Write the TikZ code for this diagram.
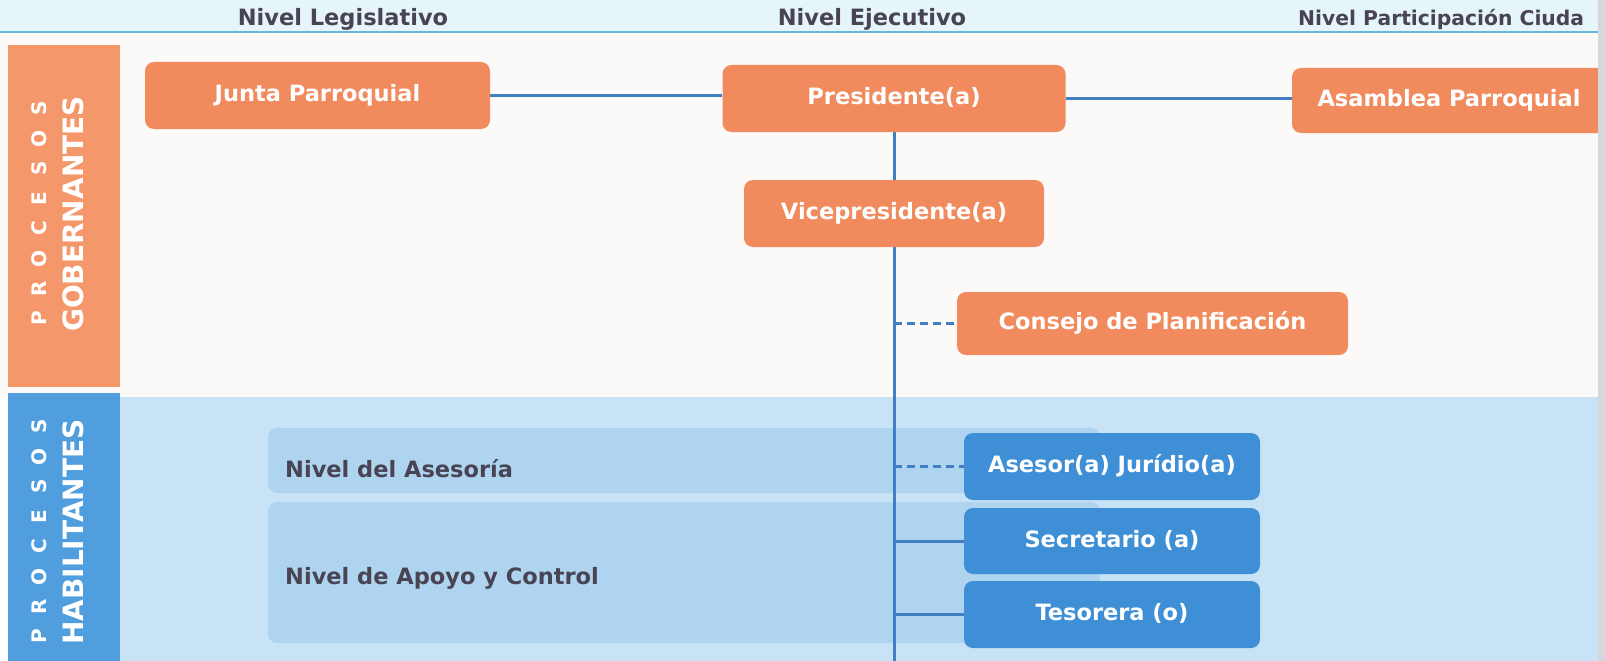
\documentclass[tikz,border=0pt]{standalone}
\usepackage{fontspec}
\setmainfont{DejaVu Sans}
\usetikzlibrary{calc}

\definecolor{naranja}{RGB}{241,139,94}
\definecolor{naranjabar}{RGB}{244,152,108}
\definecolor{azul}{RGB}{62,143,214}
\definecolor{azulbar}{RGB}{80,158,221}
\definecolor{celeste}{RGB}{200,227,246}
\definecolor{franja}{RGB}{174,212,240}
\definecolor{linea}{RGB}{66,126,196}
\definecolor{cabecera}{RGB}{229,245,249}
\definecolor{raya}{RGB}{100,185,220}
\definecolor{papel}{RGB}{252,250,248}
\definecolor{gris}{RGB}{72,68,84}
\definecolor{borde}{RGB}{214,214,220}

\pgfdeclarelayer{fondo}
\pgfdeclarelayer{lineas}
\pgfsetlayers{fondo,lineas,main}

\tikzset{
	caja/.style={rounded corners=9pt, text=white, inner sep=0pt,
		font=\bfseries\fontsize{22.5}{26}\selectfont, text height=17pt, text depth=5pt},
	cajanar/.style={caja, fill=naranja},
	cajaazul/.style={caja, fill=azul, minimum width=296pt},
	nivel/.style={text=gris, inner sep=0pt, font=\bfseries\fontsize{22.5}{26}\selectfont},
	lateral/.style={rotate=90, text=white, inner sep=0pt, font=\bfseries\fontsize{28}{30}\selectfont},
	letra/.style={rotate=90, text=white, inner sep=0pt, font=\bfseries\fontsize{20}{22}\selectfont},
	conector/.style={draw=linea, line width=3pt},
	punteado/.style={conector, dash pattern=on 8pt off 5pt}
}

\begin{document}
\begin{tikzpicture}[x=1pt, y=-1pt]
		%%%%% START %%%%%
		\useasboundingbox (0, 0) rectangle (1606, 661);
		
		\begin{pgfonlayer}{fondo}
			\fill[white] (0, 0) rectangle (1606, 661);
			\fill[cabecera] (0, 0) rectangle (1606, 32);
			\fill[papel] (0, 33) rectangle (1606, 397);
			\draw[raya, line width=2pt] (0, 32) -- (1606, 32);
			
			\fill[naranjabar] (8, 45) rectangle (120, 387);
			\fill[azulbar] (8, 393) rectangle (120, 661);
			\fill[celeste] (120, 397) rectangle (1606, 661);
			
			\fill[franja, rounded corners=9pt] (268, 428) rectangle (1100, 493);
			\fill[franja, rounded corners=9pt] (268, 502) rectangle (1100, 643);
		\end{pgfonlayer}
		
		% cabeceras
		\node[nivel, anchor=base] (legis) at (343, 26) {Nivel Legislativo};
		\node[nivel, anchor=base] (ejec) at (872, 26) {Nivel Ejecutivo};
		\node[nivel, anchor=base west, font=\bfseries\fontsize{20.3}{24}\selectfont] (partic) at (1298, 26) {Nivel Participación Ciuda};
		
		% barras laterales
		\foreach \l [count=\i from 0] in {P,R,O,C,E,S,O,S}
			\node[letra] (gob\i) at (39, 213.5+105-\i*30) {\l};
		\node[lateral] (gobernantes) at (73, 214) {GOBERNANTES};
		\foreach \l [count=\i from 0] in {P,R,O,C,E,S,O,S}
			\node[letra] (hab\i) at (39, 531.5+105-\i*30) {\l};
		\node[lateral] (habilitantes) at (73, 532) {HABILITANTES};
		
		% procesos gobernantes
		\node[cajanar, minimum width=345pt, minimum height=67pt] (junta) at (317.5, 95.5) {Junta Parroquial};
		\node[cajanar, minimum width=343pt, minimum height=67pt] (pres) at (894, 98.5) {Presidente(a)};
		\node[cajanar, minimum width=314pt, minimum height=65pt] (asam) at (1449, 100.5) {Asamblea Parroquial};
		\node[cajanar, minimum width=300pt, minimum height=67pt] (vice) at (894, 213.5) {Vicepresidente(a)};
		\node[cajanar, minimum width=391pt, minimum height=63pt] (consejo) at (1152.5, 323.5) {Consejo de Planificación};
		
		% procesos habilitantes
		\node[nivel, anchor=base west] (asesoria) at (285, 477) {Nivel del Asesoría};
		\node[nivel, anchor=base west] (apoyo) at (285, 584) {Nivel de Apoyo y Control};
		\node[cajaazul, minimum height=67pt] (asesor) at (1112, 466.5) {Asesor(a) Jurídio(a)};
		\node[cajaazul, minimum height=66pt] (secre) at (1112, 541) {Secretario (a)};
		\node[cajaazul, minimum height=67pt] (teso) at (1112, 614.5) {Tesorera (o)};
		
		\coordinate (fin) at (894, 661);
		
		\begin{pgfonlayer}{lineas}
			\draw[conector] (junta.east) -- (junta.east -| pres.west);
			\draw[conector] (pres.east) -- (pres.east -| asam.west);
			\draw[conector] (pres.south) -- (fin);
			\draw[punteado] (consejo.west -| pres.south) -- (consejo.west);
			\draw[punteado] (asesor.west -| pres.south) -- (asesor.west);
			\draw[conector] (secre.west -| pres.south) -- (secre.west);
			\draw[conector] (teso.west -| pres.south) -- (teso.west);
		\end{pgfonlayer}
		
		% borde de la hoja
		\fill[borde] (1598, 0) rectangle (1606, 661);
		%%%%% END %%%%%
\end{tikzpicture}
\end{document}
